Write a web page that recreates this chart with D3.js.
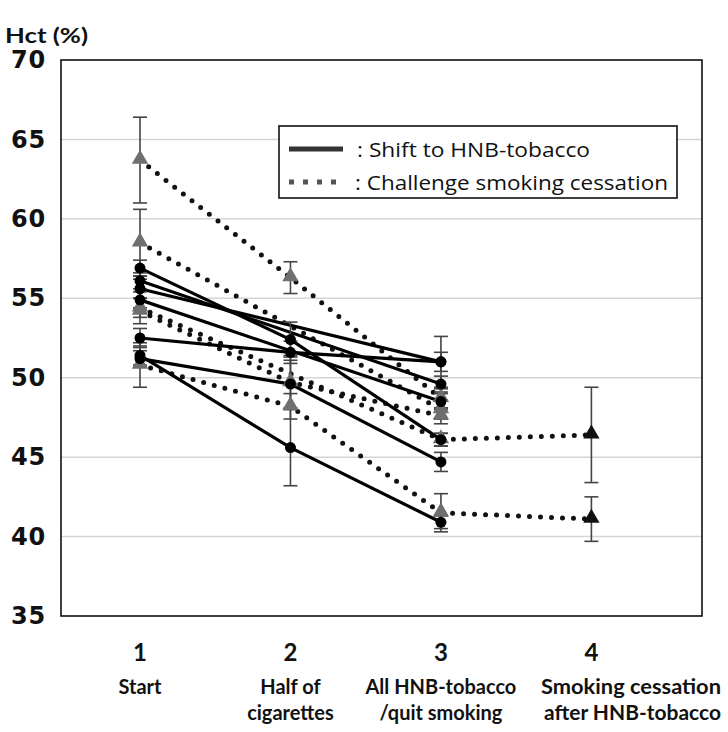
<!DOCTYPE html>
<html><head><meta charset="utf-8">
<script src="https://cdn.jsdelivr.net/npm/d3@7"></script>
<style>body{margin:0;background:#fff;} svg{display:block;}</style>
</head><body>
<svg id="chart" width="728" height="732"></svg>
<script>
// ---- data ----
const xValues = [1, 2, 3, 4];
const xLabels = [["Start"], ["Half of", "cigarettes"], ["All HNB-tobacco", "/quit smoking"], ["Smoking cessation", "after HNB-tobacco"]];
const yTicks = [35, 40, 45, 50, 55, 60, 65, 70];
const legendLabels = [": Shift to HNB-tobacco", ": Challenge smoking cessation"];

// Shift to HNB-tobacco (solid, circles): values at stage 1..4 (null = not measured)
const hnbValues = [
  [56.9, 52.4, 46.1, null],
  [55.6, null, 51.0, null],
  [56.1, null, 49.6, null],
  [54.9, null, 48.5, null],
  [52.5, 51.6, 51.0, null],
  [51.4, 45.6, 40.9, null],
  [51.2, 49.6, 44.7, null]
];
const hnbSD = [
  [0.5, 1.1, 0.4, null],
  [0.6, null, 1.6, null],
  [0.5, null, 0.5, null],
  [0.5, null, 0.5, null],
  [0.6, 0.7, 0.6, null],
  [0.6, 2.4, 0.4, null],
  [0.5, 1.5, 0.6, null]
];
// Challenge smoking cessation (dotted, triangles)
const cessValues = [
  [63.7, 56.3, 48.7, null],
  [58.5, null, 48.0, null],
  [54.2, 49.7, 47.6, null],
  [54.4, null, 46.1, 46.4],
  [50.8, 48.2, 41.5, 41.1]
];
const cessSD = [
  [2.7, 1.0, 0.6, null],
  [2.1, null, 0.6, null],
  [0.8, 1.7, 0.5, null],
  [0.6, null, 0.4, 3.0],
  [1.4, 0.8, 1.2, 1.4]
];

// ---- layout ----
const svg = d3.select("#chart");
const L = 61, R = 702, T = 60, B = 616;
const x = d3.scaleLinear().domain([0.475, 4.735]).range([L, R]);
const y = d3.scaleLinear().domain([35, 70]).range([B, T]);

// gridlines
svg.append("g").selectAll("line").data(yTicks.filter(v => v > 35 && v < 70)).join("line")
  .attr("x1", L).attr("x2", R).attr("y1", d => y(d)).attr("y2", d => y(d))
  .attr("stroke", "#d4d4d4").attr("stroke-width", 1.5);

// y axis labels
const yAxis = d3.axisLeft(y).tickValues(yTicks).tickSize(0).tickPadding(15);
const gy = svg.append("g").attr("transform", `translate(${L},0)`).call(yAxis);
gy.select(".domain").remove();
gy.selectAll("text").attr("font-family", "DejaVu Sans").attr("font-weight", "bold")
  .attr("font-size", 24).attr("fill", "#111").attr("letter-spacing", 0.8);

svg.append("text").attr("x", 5).attr("y", 43).text("Hct (%)")
  .attr("font-family", "Lato").attr("font-weight", "bold").attr("font-size", 21)
  .attr("fill", "#111").attr("textLength", 83).attr("lengthAdjust", "spacingAndGlyphs");

// x axis labels
const xg = svg.append("g");
xValues.forEach((v, i) => {
  xg.append("text").attr("x", x(v)).attr("y", 661).attr("text-anchor", "middle")
    .attr("font-family", "Lato").attr("font-weight", "bold").attr("font-size", 24)
    .attr("fill", "#111").text(v);
  const last = i === xValues.length - 1;
  xLabels[i].forEach((s, j) => {
    const t = xg.append("text").attr("y", 694 + j * 26)
      .attr("font-family", "Lato").attr("font-weight", "bold").attr("font-size", 20)
      .attr("fill", "#111").text(s);
    if (last) {
      t.attr("x", 721).attr("text-anchor", "end").attr("textLength", j === 0 ? 180 : 177)
        .attr("lengthAdjust", "spacingAndGlyphs");
    } else {
      t.attr("x", x(v)).attr("text-anchor", "middle");
    }
  });
});

// lines
const toPts = arr => arr.map((v, i) => ({x: xValues[i], v})).filter(d => d.v != null);
const line = d3.line().x(d => x(d.x)).y(d => y(d.v));

svg.append("g").selectAll("path").data(cessValues).join("path")
  .attr("d", d => line(toPts(d))).attr("fill", "none").attr("stroke", "#111")
  .attr("stroke-width", 5).attr("stroke-linecap", "round").attr("stroke-dasharray", "0 11");

svg.append("g").selectAll("path").data(hnbValues).join("path")
  .attr("d", d => line(toPts(d))).attr("fill", "none").attr("stroke", "#000")
  .attr("stroke-width", 3.2);

// error bars
function errData(vals, sds) {
  const out = [];
  vals.forEach((row, s) => row.forEach((v, i) => {
    if (v != null && sds[s][i] != null) out.push({x: xValues[i], lo: v - sds[s][i], hi: v + sds[s][i]});
  }));
  return out;
}
const errs = errData(cessValues, cessSD).concat(errData(hnbValues, hnbSD));
const eg = svg.append("g").attr("stroke", "#444").attr("stroke-width", 1.6);
eg.selectAll("line.v").data(errs).join("line").attr("class", "v")
  .attr("x1", d => x(d.x)).attr("x2", d => x(d.x)).attr("y1", d => y(d.lo)).attr("y2", d => y(d.hi));
eg.selectAll("line.lo").data(errs).join("line").attr("class", "lo")
  .attr("x1", d => x(d.x) - 7).attr("x2", d => x(d.x) + 7).attr("y1", d => y(d.lo)).attr("y2", d => y(d.lo));
eg.selectAll("line.hi").data(errs).join("line").attr("class", "hi")
  .attr("x1", d => x(d.x) - 7).attr("x2", d => x(d.x) + 7).attr("y1", d => y(d.hi)).attr("y2", d => y(d.hi));

// markers
const triPts = cessValues.flatMap(r => toPts(r));
const cirPts = hnbValues.flatMap(r => toPts(r));
const tri = d3.symbol().type(d3.symbolTriangle).size(115);
svg.append("g").selectAll("path").data(triPts).join("path")
  .attr("transform", d => `translate(${x(d.x)},${y(d.v) - 1})`).attr("d", tri)
  .attr("fill", d => d.x === 4 ? "#111" : "#6f6f6f");
svg.append("g").selectAll("circle").data(cirPts).join("circle")
  .attr("cx", d => x(d.x)).attr("cy", d => y(d.v)).attr("r", 5.5).attr("fill", "#000");

// plot border
svg.append("rect").attr("x", L).attr("y", T).attr("width", R - L).attr("height", B - T)
  .attr("fill", "none").attr("stroke", "#111").attr("stroke-width", 1.6);

// legend
const lg = svg.append("g");
lg.append("rect").attr("x", 279).attr("y", 126).attr("width", 398).attr("height", 72)
  .attr("fill", "#fff").attr("stroke", "#111").attr("stroke-width", 1.6);
lg.append("line").attr("x1", 289).attr("x2", 343).attr("y1", 149).attr("y2", 149)
  .attr("stroke", "#333").attr("stroke-width", 5);
lg.append("line").attr("x1", 289).attr("x2", 345).attr("y1", 182).attr("y2", 182)
  .attr("stroke", "#555").attr("stroke-width", 5).attr("stroke-dasharray", "5 9");
const legW = [233, 313];
legendLabels.forEach((s, i) => {
  lg.append("text").attr("x", i === 0 ? 357 : 355).attr("y", 157 + i * 33).text(s)
    .attr("font-family", "Open Sans").attr("font-size", 20).attr("fill", "#111")
    .attr("textLength", legW[i]).attr("lengthAdjust", "spacingAndGlyphs");
});
</script>
</body></html>
